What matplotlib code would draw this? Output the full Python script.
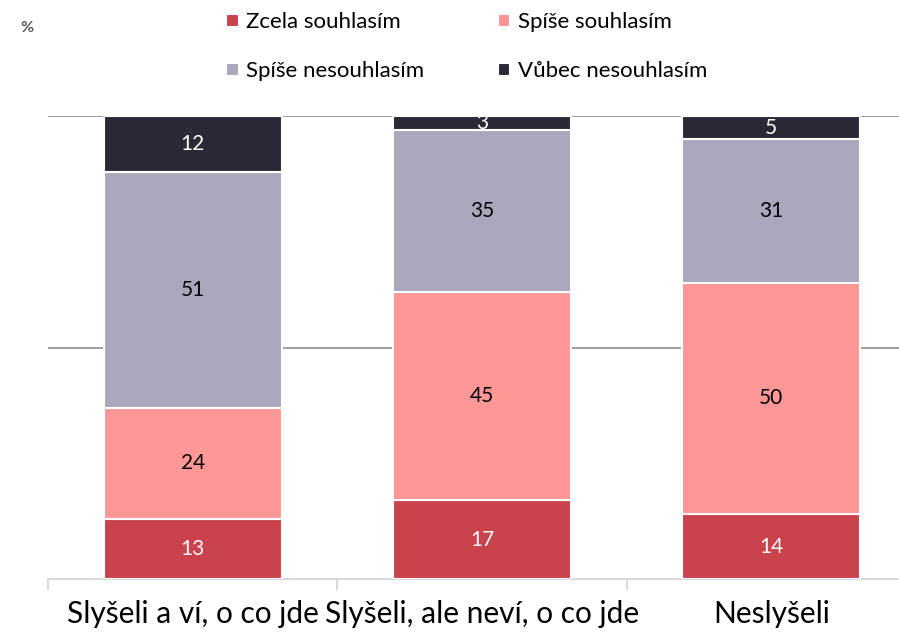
import matplotlib.pyplot as plt
import numpy as np

plt.rcParams['font.family'] = ['Lato', 'DejaVu Sans']

# Data
categories = ['Slyšeli a ví, o co jde', 'Slyšeli, ale neví, o co jde', 'Neslyšeli']
series = ['Zcela souhlasím', 'Spíše souhlasím', 'Spíše nesouhlasím', 'Vůbec nesouhlasím']
zcela = [13, 17, 14]
spise_souhl = [24, 45, 50]
spise_nesouhl = [51, 35, 31]
vubec = [12, 3, 5]

colors = ['#C9424C', '#FF9797', '#AAA7BD', '#2B2935']
text_colors = ['white', 'black', 'black', 'white']

fig = plt.figure(figsize=(8.99, 6.38), dpi=100)
ax = fig.add_axes([48 / 899, 1 - 579 / 638, 1 - 48 / 899, (579 - 116) / 638])

x = np.arange(len(categories))
bottom = np.zeros(len(categories))
bars = []
for vals, col, tcol in zip([zcela, spise_souhl, spise_nesouhl, vubec], colors, text_colors):
    b = ax.bar(x, vals, 0.615, bottom=bottom, color=col, edgecolor='white', linewidth=1.5, zorder=3)
    bars.append(b)
    for xi, v, bt in zip(x, vals, bottom):
        ax.text(xi, bt + v / 2, str(v), ha='center', va='center', fontsize=15, color=tcol, zorder=4)
    bottom += np.array(vals)

ax.set_ylim(0, 100)
ax.set_xlim(-0.5, 2.5 - 17 / 289)
ax.set_yticks([50, 100])
ax.yaxis.grid(True, color='#8C8C8C', linewidth=1.2, zorder=0)
ax.tick_params(axis='y', left=False, labelleft=False)
for s in ['left', 'right', 'top']:
    ax.spines[s].set_visible(False)
ax.spines['bottom'].set_color('#D9D9D9')
ax.spines['bottom'].set_linewidth(1.5)

ax.set_xticks([-0.5, 0.5, 1.5])
ax.set_xticklabels([])
ax.set_xticks(x, minor=True)
ax.set_xticklabels(categories, minor=True, fontsize=21.5)
ax.tick_params(axis='x', which='major', length=8, color='#D9D9D9', width=1.5)
ax.tick_params(axis='x', which='minor', length=0, pad=15)

fig.text(27 / 899, 1 - 28 / 638, '%', fontsize=11.5, color='#595959', fontweight='bold', ha='center', va='center')

handles = [bars[0], bars[2], bars[1], bars[3]]
labels = [series[0], series[2], series[1], series[3]]
fig.legend(handles, labels, ncol=2, loc='upper left', bbox_to_anchor=(222 / 899, 1 - 8 / 638),
           frameon=False, fontsize=16, handlelength=0.55, handleheight=0.55, handletextpad=0.35,
           columnspacing=3.3, labelspacing=1.3, borderpad=0.2, borderaxespad=0)

fig.savefig('out.png', dpi=100)
